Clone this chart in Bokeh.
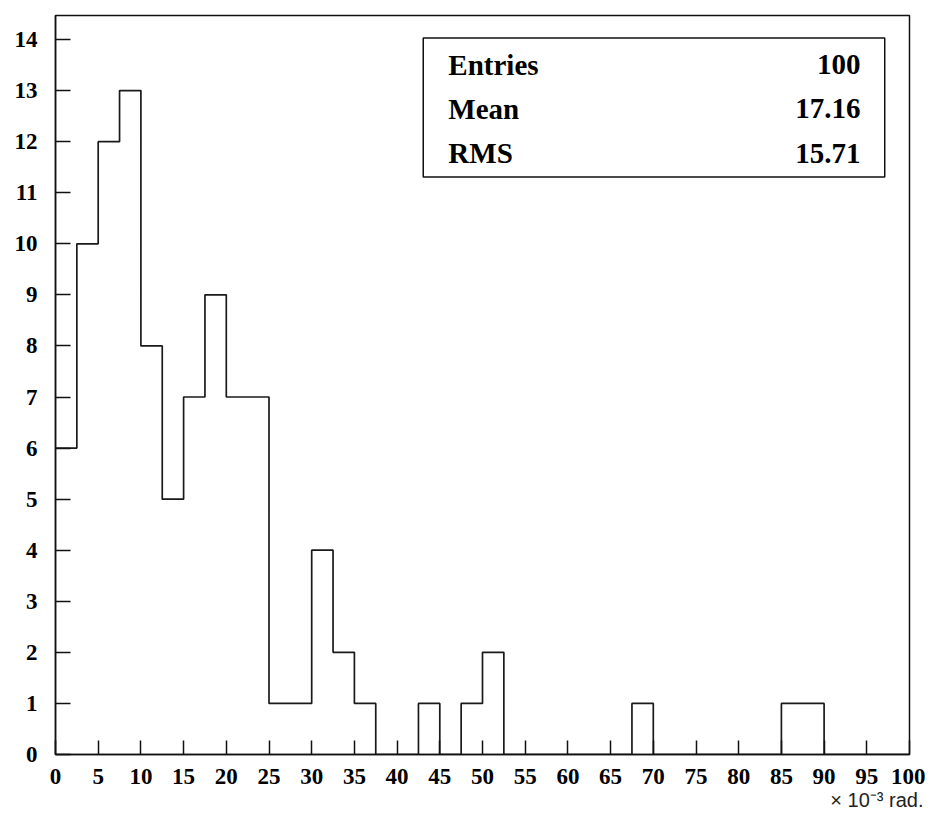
from bokeh.plotting import figure
from bokeh.models import Range1d, FixedTicker, Label, BoxAnnotation, Title
from bokeh.embed import file_html
from bokeh.resources import INLINE

# ---- data ----
bin_width = 2.5
bin_edges = [i * bin_width for i in range(41)]
counts = [6, 10, 12, 13, 8, 5, 7, 9, 7, 7,
          1, 1, 4, 2, 1, 0, 0, 1, 0, 1,
          2, 0, 0, 0, 0, 0, 0, 1, 0, 0,
          0, 0, 0, 0, 1, 1, 0, 0, 0, 0]
x_ticks = list(range(0, 101, 5))
y_ticks = list(range(0, 15))
stat_names = ["Entries", "Mean", "RMS"]
stat_values = ["100", "17.16", "15.71"]
x_label = "\u00d7 10\u207b\u00b3 rad."

step_x = bin_edges
step_y = counts + [counts[-1]]

p = figure(width=925, height=819, output_backend="svg", toolbar_location=None,
           x_range=Range1d(0, 100), y_range=Range1d(0, 14.47),
           min_border_left=55, min_border_right=16, min_border_top=15, min_border_bottom=65)
p.xgrid.visible = False
p.ygrid.visible = False
p.background_fill_color = "white"
p.border_fill_color = "white"
p.outline_line_color = "#111111"
p.outline_line_width = 1.5

for ax in (p.xaxis[0], p.yaxis[0]):
    ax.axis_line_color = "#111111"
    ax.axis_line_width = 1.5
    ax.major_tick_line_color = "#111111"
    ax.major_tick_line_width = 1.5
    ax.major_tick_out = 0
    ax.minor_tick_line_color = None
    ax.major_label_text_font = "Liberation Serif"
    ax.major_label_text_font_style = "bold"
    ax.major_label_text_font_size = "23px"
    ax.major_label_text_color = "black"

p.xaxis.ticker = FixedTicker(ticks=x_ticks)
p.yaxis.ticker = FixedTicker(ticks=y_ticks)
p.xaxis.major_tick_in = 14
p.yaxis.major_tick_in = 15
p.xaxis.major_label_standoff = 14
p.yaxis.major_label_standoff = 18

p.step(x=step_x, y=step_y, mode="after", line_color="#1a1a1a", line_width=1.7)

# stats box
box = BoxAnnotation(left=43.06, right=97.1, top=14.03, bottom=11.31,
                    fill_color="white", fill_alpha=1.0,
                    line_color="#111111", line_alpha=1.0, line_width=1.5)
p.add_layout(box)
row_y = [13.51, 12.64, 11.77]
for name, val, yy in zip(stat_names, stat_values, row_y):
    p.add_layout(Label(x=46.0, y=yy, text=name, text_font="Liberation Serif",
                       text_font_style="bold", text_font_size="29px",
                       text_baseline="middle", text_align="left", text_color="black"))
    p.add_layout(Label(x=94.26, y=yy, text=val, text_font="Liberation Serif",
                       text_font_style="bold", text_font_size="29px",
                       text_baseline="middle", text_align="right", text_color="black"))

xtitle = Title(text=x_label, align="right", offset=-14, standoff=0,
               text_font="Liberation Sans", text_font_style="normal",
               text_font_size="20px", text_color="#222222")
p.add_layout(xtitle, "below")

open("out.html", "w").write(file_html(p, INLINE))
